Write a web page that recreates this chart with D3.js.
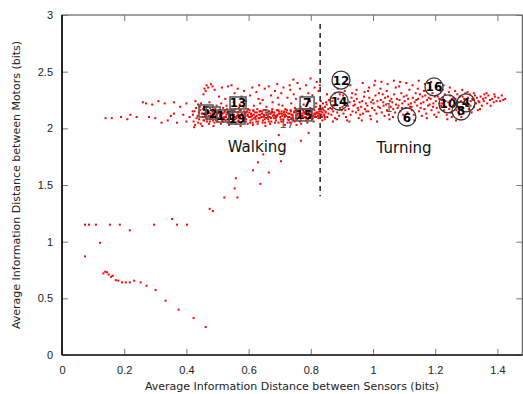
<!DOCTYPE html>
<html>
<head>
<meta charset="utf-8">
<script src="https://cdn.jsdelivr.net/npm/d3@7"></script>
<style>
  html, body { margin: 0; padding: 0; background: #fff; }
  svg { display: block; font-family: "DejaVu Sans", sans-serif; }
</style>
</head>
<body>
<div id="chart"></div>
<script>
// tick values
const xTicks = [0, 0.2, 0.4, 0.6, 0.8, 1, 1.2, 1.4];
const yTicks = [0, 0.5, 1, 1.5, 2, 2.5, 3];

// sparse points at the lower left (two trails)
const lowTrail = [
  [0.074,1.15],[0.087,1.15],[0.109,1.15],[0.154,1.15],[0.186,1.15],[0.218,1.10],[0.296,1.15],
  [0.354,1.20],[0.370,1.15],[0.402,1.15],[0.122,0.99],[0.074,0.87],
  [0.133,0.72],[0.139,0.735],[0.145,0.73],[0.150,0.71],[0.158,0.69],[0.163,0.70],[0.173,0.66],
  [0.181,0.656],[0.193,0.641],[0.205,0.641],[0.218,0.641],[0.232,0.656],[0.253,0.641],
  [0.272,0.611],[0.301,0.574],[0.333,0.479],[0.375,0.40],[0.423,0.326],[0.462,0.247]
];
const riseTrail = [
  [0.475,1.29],[0.485,1.27],[0.522,1.39],[0.564,1.39],[0.555,1.47],[0.559,1.56],[0.638,1.51],
  [0.614,1.63],[0.665,1.61],[0.630,1.70],[0.704,1.71],[0.647,1.77],[0.768,1.89],[0.697,1.94],[0.793,1.96]
];

// left, thin part of the band
const bandLeft = [
  [0.14,2.09],[0.16,2.09],[0.19,2.10],[0.21,2.08],[0.22,2.12],[0.24,2.10],[0.26,2.23],[0.27,2.22],
  [0.28,2.10],[0.29,2.21],[0.30,2.09],[0.31,2.24],[0.32,2.05],[0.33,2.22],[0.34,2.07],[0.35,2.11],
  [0.36,2.23],[0.36,2.13],[0.37,2.05],[0.38,2.19],[0.39,2.12],[0.40,2.06],[0.40,2.22],[0.41,2.10],[0.42,2.15]
];

// walking cluster
const bandCore = [
  [0.421,2.12],[0.423,2.06],[0.426,2.15],[0.428,2.03],[0.431,2.18],[0.433,2.09],[0.436,2.11],[0.438,2.05],[0.44,2.14],[0.437,2.21],[0.429,2.24],[0.425,2.01],
  [0.441,2.08],[0.444,2.16],[0.446,2.04],[0.449,2.13],[0.452,2.1],[0.454,2.17],[0.457,2.07],[0.459,2.12],[0.447,2.22],[0.455,2.3],[0.458,2.35],[0.443,2.19],[0.451,2.02],
  [0.461,2.14],[0.463,2.09],[0.466,2.06],[0.468,2.16],[0.471,2.11],[0.473,2.04],[0.476,2.18],[0.478,2.13],[0.465,2.38],[0.47,2.36],[0.474,2.23],[0.479,2.39],[0.462,2.33],[0.477,2.08],
  [0.481,2.1],[0.483,2.15],[0.486,2.07],[0.488,2.12],[0.49,2.05],[0.493,2.17],[0.495,2.09],[0.498,2.14],[0.484,2.37],[0.491,2.34],[0.497,2.2],[0.487,2.02],[0.494,2.11],[0.499,2.06],
  [0.501,2.13],[0.503,2.08],[0.506,2.16],[0.508,2.11],[0.511,2.04],[0.513,2.14],[0.516,2.09],[0.518,2.18],[0.505,2.28],[0.512,2.22],[0.517,2.06],[0.509,2.12],[0.514,2.36],
  [0.521,2.1],[0.523,2.15],[0.526,2.07],[0.528,2.12],[0.531,2.17],[0.533,2.05],[0.536,2.13],[0.538,2.09],[0.525,2.26],[0.534,2.37],[0.529,2.2],[0.537,2.03],[0.522,2.14],
  [0.541,2.11],[0.543,2.16],[0.546,2.08],[0.548,2.13],[0.551,2.06],[0.553,2.15],[0.556,2.1],[0.558,2.04],[0.545,2.38],[0.552,2.23],[0.557,2.17],[0.549,2.12],[0.555,2.31],
  [0.561,2.09],[0.563,2.14],[0.566,2.12],[0.568,2.07],[0.571,2.16],[0.573,2.1],[0.576,2.05],[0.578,2.13],[0.565,2.35],[0.572,2.21],[0.577,2.28],[0.569,2.18],[0.574,2.02],
  [0.581,2.12],[0.583,2.08],[0.586,2.15],[0.588,2.1],[0.591,2.06],[0.593,2.14],[0.596,2.11],[0.598,2.17],[0.585,2.33],[0.592,2.24],[0.597,2.04],[0.589,2.13],[0.584,2.19],
  [0.601,2.1],[0.603,2.16],[0.606,2.07],[0.608,2.13],[0.611,2.11],[0.613,2.05],[0.616,2.15],[0.618,2.09],[0.605,2.29],[0.612,2.36],[0.617,2.2],[0.609,2.12],[0.614,2.03],
  [0.621,2.14],[0.623,2.08],[0.626,2.11],[0.628,2.17],[0.631,2.06],[0.633,2.12],[0.636,2.09],[0.638,2.15],[0.625,2.32],[0.632,2.26],[0.637,2.22],[0.629,2.04],[0.634,2.38],
  [0.641,2.1],[0.643,2.13],[0.646,2.07],[0.648,2.16],[0.651,2.11],[0.653,2.05],[0.656,2.14],[0.658,2.09],[0.645,2.25],[0.652,2.35],[0.657,2.19],[0.649,2.12],[0.654,2.02],
  [0.661,2.12],[0.663,2.08],[0.666,2.15],[0.668,2.1],[0.671,2.13],[0.673,2.06],[0.676,2.17],[0.678,2.11],[0.665,2.37],[0.672,2.29],[0.677,2.23],[0.669,2.04],[0.674,2.14],
  [0.681,2.09],[0.683,2.14],[0.686,2.11],[0.688,2.07],[0.691,2.16],[0.693,2.12],[0.696,2.05],[0.698,2.13],[0.685,2.33],[0.692,2.39],[0.697,2.21],[0.689,2.1],[0.694,2.27],
  [0.701,2.13],[0.703,2.08],[0.706,2.15],[0.708,2.11],[0.711,2.06],[0.713,2.14],[0.716,2.1],[0.718,2.17],[0.705,2.31],[0.712,2.36],[0.717,2.03],[0.709,2.2],[0.714,2.12],
  [0.721,2.11],[0.723,2.16],[0.726,2.08],[0.728,2.13],[0.731,2.1],[0.733,2.05],[0.736,2.15],[0.738,2.12],[0.725,2.27],[0.732,2.38],[0.737,2.22],[0.729,2.07],[0.734,2.34],
  [0.741,2.12],[0.743,2.09],[0.746,2.14],[0.748,2.06],[0.751,2.16],[0.753,2.11],[0.756,2.08],[0.758,2.13],[0.745,2.3],[0.752,2.26],[0.757,2.4],[0.749,2.18],[0.754,2.03],[0.744,2.43],
  [0.761,2.1],[0.763,2.15],[0.766,2.12],[0.768,2.07],[0.771,2.17],[0.773,2.13],[0.776,2.09],[0.778,2.14],[0.765,2.35],[0.772,2.28],[0.777,2.21],[0.769,2.04],[0.774,2.11],[0.767,2.19],
  [0.781,2.13],[0.783,2.1],[0.786,2.16],[0.788,2.12],[0.791,2.08],[0.793,2.15],[0.796,2.11],[0.798,2.18],[0.785,2.38],[0.792,2.31],[0.797,2.24],[0.789,2.05],[0.794,2.14],[0.799,2.44],
  [0.801,2.12],[0.803,2.15],[0.806,2.09],[0.808,2.17],[0.811,2.13],[0.813,2.1],[0.816,2.19],[0.818,2.14],[0.805,2.29],[0.812,2.36],[0.817,2.22],[0.809,2.06],[0.814,2.12],[0.819,2.41],
  [0.821,2.14],[0.823,2.11],[0.826,2.17],[0.828,2.13],[0.831,2.2],[0.833,2.15],[0.836,2.1],[0.838,2.18],[0.825,2.33],[0.832,2.24],[0.837,2.07],[0.829,2.38],[0.834,2.12],[0.839,2.22],
  [0.841,2.16],[0.843,2.12],[0.846,2.19],[0.848,2.14],[0.851,2.21],[0.853,2.1],[0.856,2.17],[0.858,2.25],[0.845,2.08],[0.852,2.3],[0.857,2.13],[0.849,2.23]
];

// thickest part of the walking cluster
const bandCoreDense = [
  [0.452,2.13],[0.457,2.1],[0.462,2.12],[0.467,2.08],[0.472,2.14],[0.477,2.11],[0.482,2.09],[0.487,2.13],[0.492,2.1],[0.497,2.12],
  [0.502,2.09],[0.507,2.14],[0.512,2.11],[0.517,2.13],[0.522,2.08],[0.527,2.1],[0.532,2.13],[0.537,2.11],[0.542,2.09],[0.547,2.15],
  [0.552,2.12],[0.557,2.08],[0.562,2.11],[0.567,2.14],[0.572,2.09],[0.577,2.12],[0.582,2.1],[0.587,2.13],[0.592,2.08],[0.597,2.12],
  [0.602,2.14],[0.607,2.1],[0.612,2.08],[0.617,2.12],[0.622,2.1],[0.627,2.14],[0.632,2.09],[0.637,2.12],[0.642,2.15],[0.647,2.1],
  [0.652,2.08],[0.657,2.12],[0.662,2.1],[0.667,2.13],[0.672,2.09],[0.677,2.14],[0.682,2.12],[0.687,2.09],[0.692,2.11],[0.697,2.15],
  [0.702,2.1],[0.707,2.13],[0.712,2.08],[0.717,2.12],[0.722,2.14],[0.727,2.1],[0.732,2.13],[0.737,2.09],[0.742,2.11],[0.747,2.15],
  [0.752,2.09],[0.757,2.12],[0.762,2.13],[0.767,2.09],[0.772,2.11],[0.777,2.15],[0.782,2.1],[0.787,2.13],[0.792,2.12],[0.797,2.09],
  [0.802,2.14],[0.807,2.11],[0.812,2.16],[0.817,2.1],[0.822,2.13],[0.827,2.15],[0.832,2.11],[0.837,2.14],[0.842,2.12],[0.847,2.15],
  [0.455,2.07],[0.465,2.15],[0.475,2.06],[0.485,2.16],[0.495,2.07],[0.505,2.15],[0.515,2.07],[0.525,2.16],[0.535,2.07],[0.545,2.05],
  [0.555,2.15],[0.565,2.06],[0.575,2.16],[0.585,2.06],[0.595,2.15],[0.605,2.05],[0.615,2.16],[0.625,2.06],[0.635,2.15],[0.645,2.05],
  [0.655,2.16],[0.665,2.06],[0.675,2.15],[0.685,2.05],[0.695,2.16],[0.705,2.06],[0.715,2.15],[0.725,2.05],[0.735,2.16],[0.745,2.07],
  [0.755,2.15],[0.765,2.06],[0.775,2.16],[0.785,2.07],[0.795,2.16],[0.805,2.08],[0.815,2.13],[0.825,2.09],[0.835,2.17],[0.845,2.1]
];

// turning cluster
const bandRight = [
  [0.862,2.18],[0.866,2.12],[0.869,2.24],[0.872,2.15],[0.875,2.2],[0.878,2.09],[0.864,2.27],[0.871,2.06],[0.877,2.31],[0.868,2.17],
  [0.882,2.21],[0.885,2.14],[0.888,2.26],[0.891,2.11],[0.894,2.18],[0.897,2.23],[0.884,2.08],[0.893,2.3],[0.899,2.16],[0.887,2.35],
  [0.902,2.19],[0.905,2.13],[0.908,2.25],[0.911,2.16],[0.914,2.22],[0.917,2.07],[0.904,2.29],[0.913,2.1],[0.919,2.2],[0.909,2.33],
  [0.922,2.17],[0.925,2.23],[0.928,2.12],[0.931,2.27],[0.934,2.15],[0.937,2.2],[0.924,2.06],[0.933,2.31],[0.939,2.24],[0.927,2.38],
  [0.942,2.21],[0.945,2.14],[0.948,2.26],[0.951,2.18],[0.954,2.09],[0.957,2.23],[0.944,2.3],[0.953,2.16],[0.959,2.12],[0.947,2.34],
  [0.962,2.19],[0.965,2.24],[0.968,2.13],[0.971,2.28],[0.974,2.17],[0.977,2.22],[0.964,2.07],[0.973,2.32],[0.979,2.15],[0.967,2.4],
  [0.982,2.2],[0.985,2.15],[0.988,2.27],[0.991,2.11],[0.994,2.23],[0.997,2.18],[0.984,2.33],[0.993,2.08],[0.999,2.25],[0.987,2.36],
  [1.002,2.22],[1.005,2.16],[1.008,2.29],[1.011,2.13],[1.014,2.24],[1.017,2.19],[1.004,2.38],[1.013,2.06],[1.019,2.31],[1.007,2.42],
  [1.022,2.18],[1.025,2.25],[1.028,2.14],[1.031,2.3],[1.034,2.2],[1.037,2.11],[1.024,2.35],[1.033,2.23],[1.039,2.27],[1.027,2.41],
  [1.042,2.21],[1.045,2.16],[1.048,2.28],[1.051,2.12],[1.054,2.24],[1.057,2.19],[1.044,2.33],[1.053,2.08],[1.059,2.26],[1.047,2.39],
  [1.062,2.23],[1.065,2.17],[1.068,2.3],[1.071,2.14],[1.074,2.21],[1.077,2.26],[1.064,2.1],[1.073,2.36],[1.079,2.18],[1.067,2.42],
  [1.082,2.2],[1.085,2.25],[1.088,2.15],[1.091,2.31],[1.094,2.22],[1.097,2.12],[1.084,2.37],[1.093,2.18],[1.099,2.28],[1.087,2.41],
  [1.102,2.24],[1.105,2.18],[1.108,2.29],[1.111,2.14],[1.114,2.21],[1.117,2.34],[1.104,2.1],[1.113,2.26],[1.119,2.19],[1.107,2.4],
  [1.122,2.22],[1.125,2.16],[1.128,2.27],[1.131,2.12],[1.134,2.23],[1.137,2.31],[1.124,2.19],[1.133,2.07],[1.139,2.25],[1.127,2.38],
  [1.142,2.2],[1.145,2.26],[1.148,2.15],[1.151,2.3],[1.154,2.22],[1.157,2.11],[1.144,2.35],[1.153,2.18],[1.159,2.28],[1.147,2.42],
  [1.162,2.23],[1.165,2.17],[1.168,2.29],[1.171,2.13],[1.174,2.25],[1.177,2.2],[1.164,2.33],[1.173,2.09],[1.179,2.27],[1.167,2.39],
  [1.182,2.21],[1.185,2.26],[1.188,2.16],[1.191,2.31],[1.194,2.22],[1.197,2.12],[1.184,2.36],[1.193,2.19],[1.199,2.28],[1.187,2.41],
  [1.202,2.24],[1.205,2.18],[1.208,2.28],[1.211,2.14],[1.214,2.22],[1.217,2.33],[1.204,2.1],[1.213,2.26],[1.219,2.2],[1.207,2.4],
  [1.222,2.22],[1.225,2.27],[1.228,2.16],[1.231,2.3],[1.234,2.19],[1.237,2.12],[1.224,2.34],[1.233,2.24],[1.239,2.08],[1.227,2.38],
  [1.242,2.23],[1.245,2.17],[1.248,2.29],[1.251,2.14],[1.254,2.26],[1.257,2.2],[1.244,2.32],[1.253,2.1],[1.259,2.27],[1.247,2.36],
  [1.262,2.21],[1.265,2.26],[1.268,2.16],[1.271,2.3],[1.274,2.23],[1.277,2.12],[1.264,2.33],[1.273,2.19],[1.279,2.28],[1.267,2.07],
  [1.282,2.24],[1.285,2.18],[1.288,2.28],[1.291,2.13],[1.294,2.22],[1.297,2.31],[1.284,2.1],[1.293,2.26],[1.299,2.2],[1.287,2.34],
  [1.302,2.22],[1.305,2.27],[1.308,2.17],[1.311,2.3],[1.314,2.24],[1.317,2.14],[1.304,2.32],[1.313,2.2],[1.319,2.26],
  [1.322,2.25],[1.325,2.19],[1.328,2.29],[1.331,2.22],[1.334,2.27],[1.337,2.16],[1.324,2.31],[1.339,2.24],
  [1.342,2.23],[1.346,2.28],[1.35,2.2],[1.354,2.26],[1.358,2.3],[1.344,2.17],[1.356,2.24],
  [1.362,2.27],[1.367,2.22],[1.371,2.29],[1.376,2.25],[1.365,2.31],[1.378,2.2],
  [1.383,2.26],[1.388,2.23],[1.392,2.28],[1.397,2.24],[1.39,2.3],
  [1.403,2.27],[1.409,2.24],[1.414,2.29],[1.419,2.25],[1.425,2.26]
];

// robot labels: boxed = walking, circled = turning, plain = other
const boxedLabels = [
  ["5", 0.463, 2.153], ["2", 0.486, 2.135], ["11", 0.524, 2.109], ["19", 0.563, 2.091],
  ["13", 0.566, 2.224], ["7", 0.788, 2.224], ["15", 0.778, 2.118]
];
const circledLabels = [
  ["12", 0.897, 2.426], ["14", 0.891, 2.241], ["16", 1.196, 2.365], ["10", 1.241, 2.215],
  ["4", 1.299, 2.224], ["8", 1.283, 2.153], ["6", 1.109, 2.10]
];
const plainLabels = [["3", 0.656, 2.135], ["17", 0.723, 2.047], ["1", 1.051, 2.18]];

const regionLabels = [["Walking", 0.628, 1.79], ["Turning", 1.100, 1.785]];
const divider = { x: 0.83, y0: 1.4, y1: 2.92 };

const width = 523, height = 394;
const x = d3.scaleLinear().domain([0, 1.48]).range([62, 522.3]);
const y = d3.scaleLinear().domain([0, 3]).range([355, 15]);

const svg = d3.select('#chart').append('svg')
  .attr('width', width)
  .attr('height', height);

// points
const allPts = [].concat(lowTrail, riseTrail, bandLeft, bandCore, bandCoreDense, bandRight);
svg.append('g')
  .attr('fill', '#ff0000')
  .selectAll('rect')
  .data(allPts)
  .join('rect')
  .attr('x', d => x(d[0]) - 1)
  .attr('y', d => y(d[1]) - 1)
  .attr('width', 2)
  .attr('height', 2);

// frame
svg.append('rect')
  .attr('x', x(0)).attr('y', y(3))
  .attr('width', x(1.48) - x(0)).attr('height', y(0) - y(3))
  .attr('fill', 'none').attr('stroke', '#444').attr('stroke-width', 1);

// axes, ticks inward
const fmt = d => String(+d.toFixed(1));
svg.append('g')
  .attr('transform', `translate(0,${y(0)})`)
  .call(d3.axisBottom(x).tickValues(xTicks).tickSize(-6).tickPadding(11).tickFormat(fmt));
svg.append('g')
  .attr('transform', `translate(${x(0)},0)`)
  .call(d3.axisLeft(y).tickValues(yTicks).tickSize(-6).tickPadding(9).tickFormat(fmt));
// mirrored ticks on top and right
svg.append('g')
  .attr('transform', `translate(0,${y(3)})`)
  .call(d3.axisTop(x).tickValues(xTicks).tickSize(-6).tickFormat(''));
svg.append('g')
  .attr('transform', `translate(${x(1.48)},0)`)
  .call(d3.axisRight(y).tickValues(yTicks).tickSize(-6).tickFormat(''));

svg.selectAll('.domain').remove();
svg.selectAll('.tick line').attr('stroke', '#777').attr('stroke-width', 1);
svg.selectAll('.tick text').attr('fill', '#222').style('font-size', '11px');

svg.append('line')
  .attr('x1', x(0)).attr('x2', x(0)).attr('y1', y(0)).attr('y2', y(3))
  .attr('stroke', '#000').attr('stroke-width', 1.5);
svg.append('line')
  .attr('x1', x(0)).attr('x2', x(1.48)).attr('y1', y(0)).attr('y2', y(0))
  .attr('stroke', '#222').attr('stroke-width', 1.5);

// axis titles
svg.append('text')
  .attr('x', 292).attr('y', 390)
  .attr('text-anchor', 'middle')
  .style('font-size', '11px').attr('fill', '#222')
  .text('Average Information Distance between Sensors (bits)');
svg.append('text')
  .attr('transform', `translate(20,${y(1.5)}) rotate(-90)`)
  .attr('text-anchor', 'middle')
  .style('font-size', '11px').attr('fill', '#222')
  .text('Average Information Distance between Motors (bits)');

// divider
svg.append('line')
  .attr('x1', x(divider.x)).attr('x2', x(divider.x))
  .attr('y1', y(divider.y1)).attr('y2', y(divider.y0))
  .attr('stroke', '#222').attr('stroke-width', 1.5)
  .attr('stroke-dasharray', '5,4');

svg.selectAll('.region')
  .data(regionLabels)
  .join('text')
  .attr('class', 'region')
  .attr('x', d => x(d[1])).attr('y', d => y(d[2]))
  .attr('text-anchor', 'middle')
  .style('font-size', '15px').attr('fill', '#111')
  .text(d => d[0]);

// boxed
const bx = svg.append('g');
boxedLabels.forEach(([t, vx, vy]) => {
  const w = t.length > 1 ? 16 : 14;
  bx.append('rect')
    .attr('x', x(vx) - w / 2).attr('y', y(vy) - 6)
    .attr('width', w).attr('height', 12)
    .attr('fill', 'none').attr('stroke', '#555').attr('stroke-width', 1.5);
  bx.append('text')
    .attr('x', x(vx)).attr('y', y(vy) + 4.5)
    .attr('text-anchor', 'middle')
    .style('font-size', '12px').style('font-weight', 'bold').attr('fill', '#000')
    .text(t);
});

// circled
const cx = svg.append('g');
circledLabels.forEach(([t, vx, vy]) => {
  cx.append('circle')
    .attr('cx', x(vx)).attr('cy', y(vy)).attr('r', 9)
    .attr('fill', 'none').attr('stroke', '#333').attr('stroke-width', 1.3);
  cx.append('text')
    .attr('x', x(vx)).attr('y', y(vy) + 4.5)
    .attr('text-anchor', 'middle')
    .style('font-size', '12px').style('font-weight', 'bold').attr('fill', '#000')
    .text(t);
});

svg.append('g')
  .selectAll('text')
  .data(plainLabels)
  .join('text')
  .attr('x', d => x(d[1])).attr('y', d => y(d[2]) + 4.5)
  .attr('text-anchor', 'middle')
  .style('font-size', '12px').attr('fill', '#555')
  .text(d => d[0]);
</script>
</body>
</html>
